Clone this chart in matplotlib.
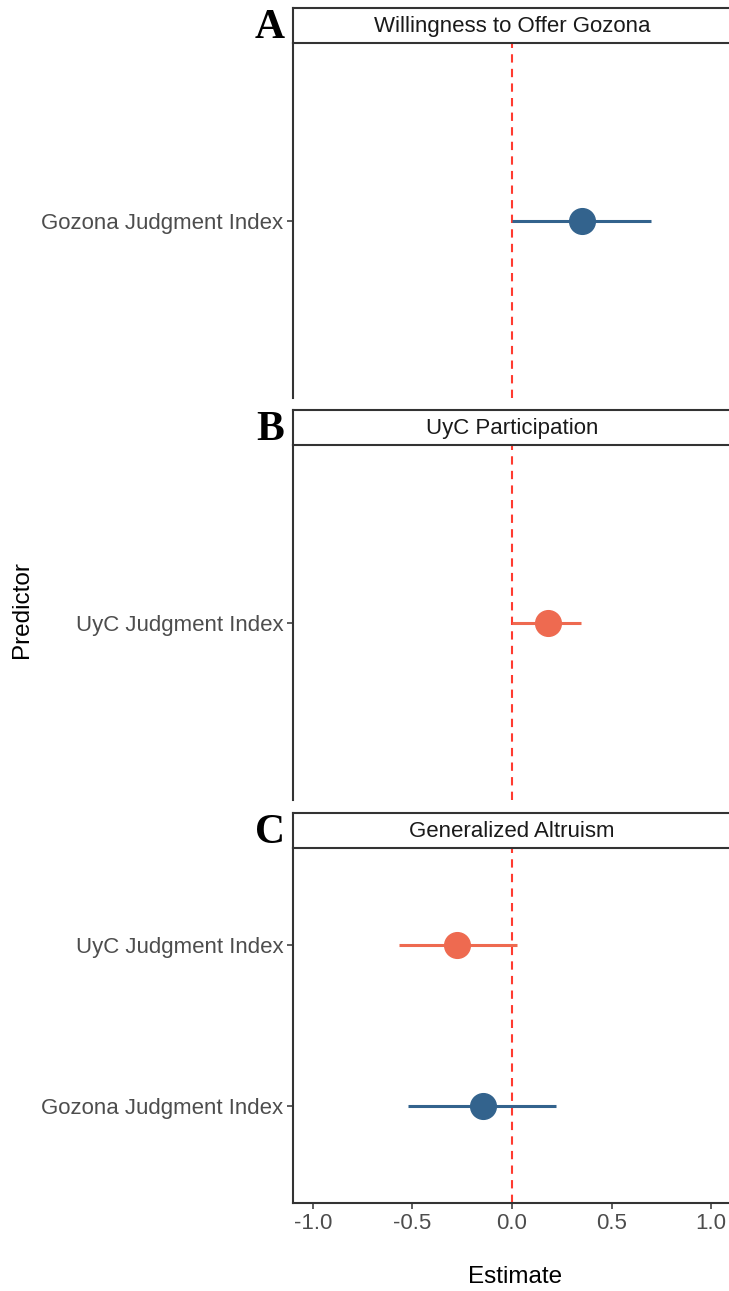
import numpy as np
import matplotlib
matplotlib.use("Agg")
import matplotlib.pyplot as plt

# ---- data ----
panel_titles = ["Willingness to Offer Gozona", "UyC Participation", "Generalized Altruism"]
panel_tags = ["A", "B", "C"]
predictors = [["Gozona Judgment Index"],
              ["UyC Judgment Index"],
              ["Gozona Judgment Index", "UyC Judgment Index"]]
estimates = [[0.35], [0.18], [-0.145, -0.275]]
ci_low = [[0.0], [0.0], [-0.52, -0.57]]
ci_high = [[0.70], [0.345], [0.22, 0.025]]

col_of = {"Gozona Judgment Index": "#33638D", "UyC Judgment Index": "#EE6A50"}
xticks = [-1.0, -0.5, 0.0, 0.5, 1.0]

W, H = 729, 1291
plt.rcParams['font.family'] = ['Liberation Sans', 'DejaVu Sans']
fig = plt.figure(figsize=(W / 100, H / 100), dpi=100)

def box(x0, y0, x1, y1):
    # pixel box -> figure fraction
    return [x0 / W, 1 - y1 / H, (x1 - x0) / W, (y1 - y0) / H]

strips = [(8, 43), (410, 445), (813, 848)]
panels = [(43, 398), (445, 800), (848, 1203)]
tag_y = [28, 430, 833]

for i in range(3):
    ax = fig.add_axes(box(293, panels[i][0], 729, panels[i][1]))
    ax.patch.set_visible(False)

    # strip on top of the panel
    sax = fig.add_axes(box(293, strips[i][0], 740, strips[i][1]))
    sax.set_xticks([]); sax.set_yticks([])
    for s in sax.spines.values():
        s.set_linewidth(1.5); s.set_color("#333333")
    sax.text(0.49, 0.47, panel_titles[i], transform=sax.transAxes, ha="center",
             va="center", fontsize=16, color="#1A1A1A")
    fig.text(270 / W, 1 - tag_y[i] / H, panel_tags[i], ha="center", va="center",
             fontsize=30, fontweight="bold", family="Liberation Serif")

    n = len(predictors[i])
    ys = np.arange(1, n + 1)
    ax.axvline(0, color="#FF3B30", ls=(0, (4, 3)), lw=1.5, zorder=1)
    for y, p, e, lo, hi in zip(ys, predictors[i], estimates[i], ci_low[i], ci_high[i]):
        ax.plot([lo, hi], [y, y], color=col_of[p], lw=2.2, zorder=2, solid_capstyle="butt")
        ax.plot(e, y, "o", color=col_of[p], ms=18.5, zorder=3)
    ax.set_ylim(0.4, n + 0.6)
    ax.set_yticks(ys)
    ax.set_yticklabels(predictors[i], fontsize=16, color="#4D4D4D")
    ax.set_xlim(-1.1, 1.09)
    for s in ["top", "right", "bottom"]:
        ax.spines[s].set_visible(False)
    ax.spines["left"].set_linewidth(1.5)
    ax.spines["left"].set_color("#333333")
    ax.tick_params(axis="y", length=4, width=1.1, color="#333333", pad=3)
    if i < 2:
        ax.set_xticks([])
    else:
        ax.spines["bottom"].set_visible(True)
        ax.spines["bottom"].set_linewidth(1.5)
        ax.spines["bottom"].set_color("#333333")
        ax.set_xticks(xticks)
        ax.set_xticklabels(["%.1f" % t for t in xticks], fontsize=16, color="#4D4D4D")
        ax.tick_params(axis="x", length=4, width=1.1, color="#333333", pad=3)

fig.text(515 / W, 1 - 1277 / H, "Estimate", ha="center", va="center", fontsize=17.5, color="black")
fig.text(22 / W, 1 - 610 / H, "Predictor", ha="center", va="center", fontsize=17.5,
         rotation=90, color="black")

fig.savefig("out.png", dpi=100)
